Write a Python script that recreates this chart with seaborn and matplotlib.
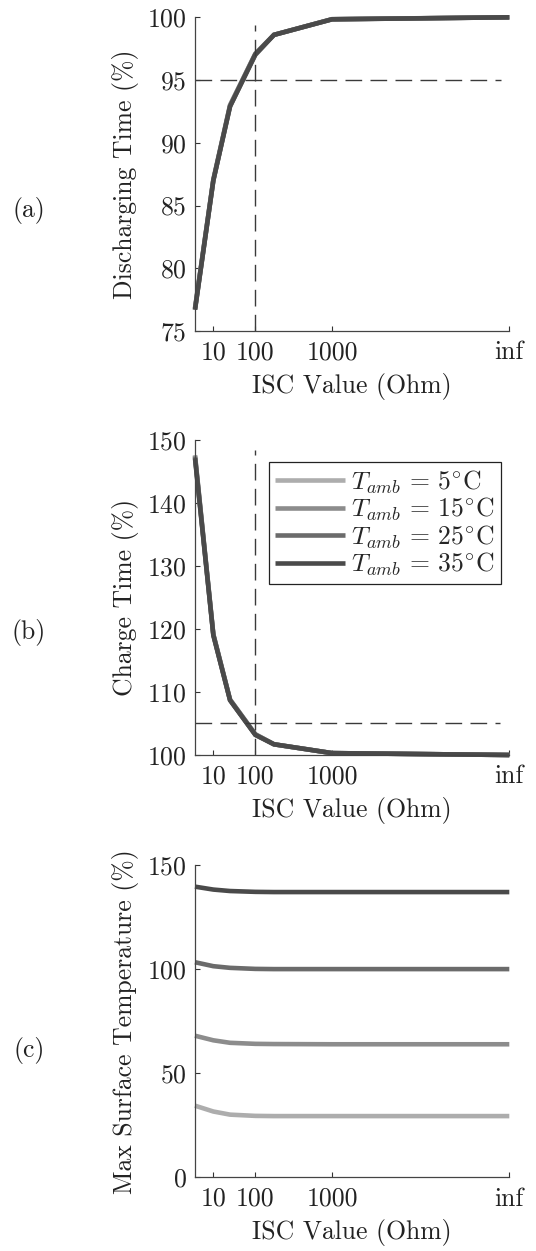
import numpy as np
import pandas as pd
import matplotlib
matplotlib.use("Agg")
import matplotlib.pyplot as plt
import seaborn as sns

# ---------------- data ----------------
INF = 1e5  # stand-in for an infinite ISC resistance (open circuit), labelled "inf"
isc_values = [5, 10, 25, 100, 175, 1000, INF]
x_tick_values = [10, 100, 1000, INF]
x_tick_labels = ["10", "100", "1000", "inf"]

temps = [r"$T_{amb}$ = 5$^{\circ}$C", r"$T_{amb}$ = 15$^{\circ}$C",
         r"$T_{amb}$ = 25$^{\circ}$C", r"$T_{amb}$ = 35$^{\circ}$C"]

discharge_5 = [76.8, 87.1, 93.0, 97.1, 98.6, 99.85, 100.0]
discharge_15 = [76.8, 87.0, 93.0, 97.1, 98.6, 99.85, 100.0]
discharge_25 = [76.7, 87.0, 92.9, 97.0, 98.6, 99.84, 100.0]
discharge_35 = [76.7, 87.0, 92.9, 97.05, 98.6, 99.84, 100.0]

charge_5 = [147.6, 119.2, 108.8, 103.3, 101.7, 100.3, 100.0]
charge_15 = [147.5, 119.1, 108.8, 103.3, 101.7, 100.3, 100.0]
charge_25 = [147.3, 119.1, 108.7, 103.2, 101.7, 100.3, 100.0]
charge_35 = [147.1, 119.0, 108.7, 103.2, 101.7, 100.3, 100.0]

maxtemp_5 = [34.4, 31.6, 30.1, 29.5, 29.4, 29.4, 29.4]
maxtemp_15 = [68.0, 65.8, 64.6, 64.1, 64.0, 63.9, 63.9]
maxtemp_25 = [103.3, 101.4, 100.6, 100.1, 100.0, 100.0, 100.0]
maxtemp_35 = [139.6, 138.2, 137.5, 137.1, 137.0, 137.0, 137.0]

discharge_threshold = 95
charge_threshold = 105
isc_threshold = 100

palette = ["#adadad", "#8c8c8c", "#6b6b6b", "#4a4a4a"]


def long_df(series_list):
    rows = []
    for t, vals in zip(temps, series_list):
        for x, v in zip(isc_values, vals):
            rows.append({"isc": x, "value": v, "T": t})
    return pd.DataFrame(rows)


df_a = long_df([discharge_5, discharge_15, discharge_25, discharge_35])
df_b = long_df([charge_5, charge_15, charge_25, charge_35])
df_c = long_df([maxtemp_5, maxtemp_15, maxtemp_25, maxtemp_35])

# ---------------- style ----------------
sns.set_style("ticks")
plt.rcParams["font.family"] = ["cmr10", "DejaVu Serif"]
plt.rcParams["mathtext.fontset"] = "cm"
plt.rcParams["axes.formatter.use_mathtext"] = True
plt.rcParams["axes.unicode_minus"] = False
FS = 18.5

# custom x scale reproducing the original's stretched axis
_log_anchor = np.array([np.log10(5), 1.0, 2.0, 3.0, 5.0])
_pos_anchor = np.array([0.0, 55.0, 181.0, 411.0, 943.0])


def fwd(x):
    x = np.asarray(x, dtype=float)
    with np.errstate(divide="ignore", invalid="ignore"):
        lx = np.log10(np.where(x > 0, x, np.nan))
    return np.interp(lx, _log_anchor, _pos_anchor)


def inv(p):
    p = np.asarray(p, dtype=float)
    return 10 ** np.interp(p, _pos_anchor, _log_anchor)


W, H = 536, 1251
fig = plt.figure(figsize=(W / 100, H / 100), dpi=100)

ax_left = 195 / W
ax_w = 314.3 / W
boxes = [(17.3, 331.0), (440.0, 755.0), (865.0, 1177.3)]
axes = []
for top, bot in boxes:
    axes.append(fig.add_axes([ax_left, 1 - bot / H, ax_w, (bot - top) / H]))

specs = [
    (df_a, "Discharging Time (%)", (75, 100), [75, 80, 85, 90, 95, 100]),
    (df_b, "Charge Time (%)", (100, 150), [100, 110, 120, 130, 140, 150]),
    (df_c, "Max Surface Temperature (%)", (0, 150), [0, 50, 100, 150]),
]

for i, (ax, (df, ylab, ylim, yticks)) in enumerate(zip(axes, specs)):
    ax.set_xscale("function", functions=(fwd, inv))
    sns.lineplot(data=df, x="isc", y="value", hue="T", hue_order=temps,
                 palette=palette, linewidth=3.3, ax=ax, legend=(i == 1),
                 estimator=None, sort=False)
    for ln in ax.get_lines():
        ln.set_clip_on(False)
        ln.set_solid_capstyle("butt")
        ln.set_solid_joinstyle("miter")
    ax.set_xlim(5, INF)
    ax.set_ylim(*ylim)
    ax.set_xticks(x_tick_values)
    ax.set_xticklabels(x_tick_labels)
    ax.xaxis.set_minor_locator(matplotlib.ticker.NullLocator())
    ax.set_yticks(yticks)
    ax.tick_params(axis="both", direction="in", length=3.6, width=0.8,
                   color="#333333", labelsize=FS, labelcolor="#222222")
    ax.tick_params(axis="y", pad=6)
    ax.tick_params(axis="x", pad=7)
    for s in ["top", "right"]:
        ax.spines[s].set_visible(False)
    for s in ["left", "bottom"]:
        ax.spines[s].set_color("#444444")
        ax.spines[s].set_linewidth(0.9)
    ax.set_xlabel("ISC Value (Ohm)", fontsize=FS, color="#222222")
    ax.set_ylabel(ylab, fontsize=FS, color="#222222")
    ax.yaxis.set_label_coords(-0.178, 0.5)
    ax.xaxis.set_label_coords(0.5, -0.134)

dash = (0, (12, 6))
dcol = "#3a3a3a"
# (a) thresholds
axes[0].axhline(discharge_threshold, xmin=0, xmax=0.975, color=dcol, lw=1.0, ls=dash)
axes[0].axvline(isc_threshold, ymin=0, ymax=0.976, color=dcol, lw=1.0, ls=dash)
# (b) thresholds
axes[1].axhline(charge_threshold, xmin=0, xmax=0.972, color=dcol, lw=1.0, ls=dash)
axes[1].axvline(isc_threshold, ymin=0, ymax=0.968, color=dcol, lw=1.0, ls=dash)

# legend in (b)
handles, labels = axes[1].get_legend_handles_labels()
axes[1].get_legend().remove()
leg = axes[1].legend(handles, labels, loc="upper right",
                     bbox_to_anchor=((501 - 195) / 314.3, 1 - (462 - 440) / 315),
                     borderaxespad=0, fontsize=FS, handlelength=2.7,
                     handletextpad=0.25, labelspacing=0.0, borderpad=0.25,
                     frameon=True, fancybox=False, framealpha=1)
leg.get_frame().set_edgecolor("#222222")
leg.get_frame().set_linewidth(0.9)
for lh in leg.get_lines():
    lh.set_linewidth(3.3)

# panel labels
for lab, yc in [("(a)", 210), ("(b)", 632), ("(c)", 1050)]:
    fig.text(29 / W, 1 - yc / H, lab, ha="center", va="center", fontsize=FS,
             color="#222222")

fig.savefig("out.png", dpi=100)
